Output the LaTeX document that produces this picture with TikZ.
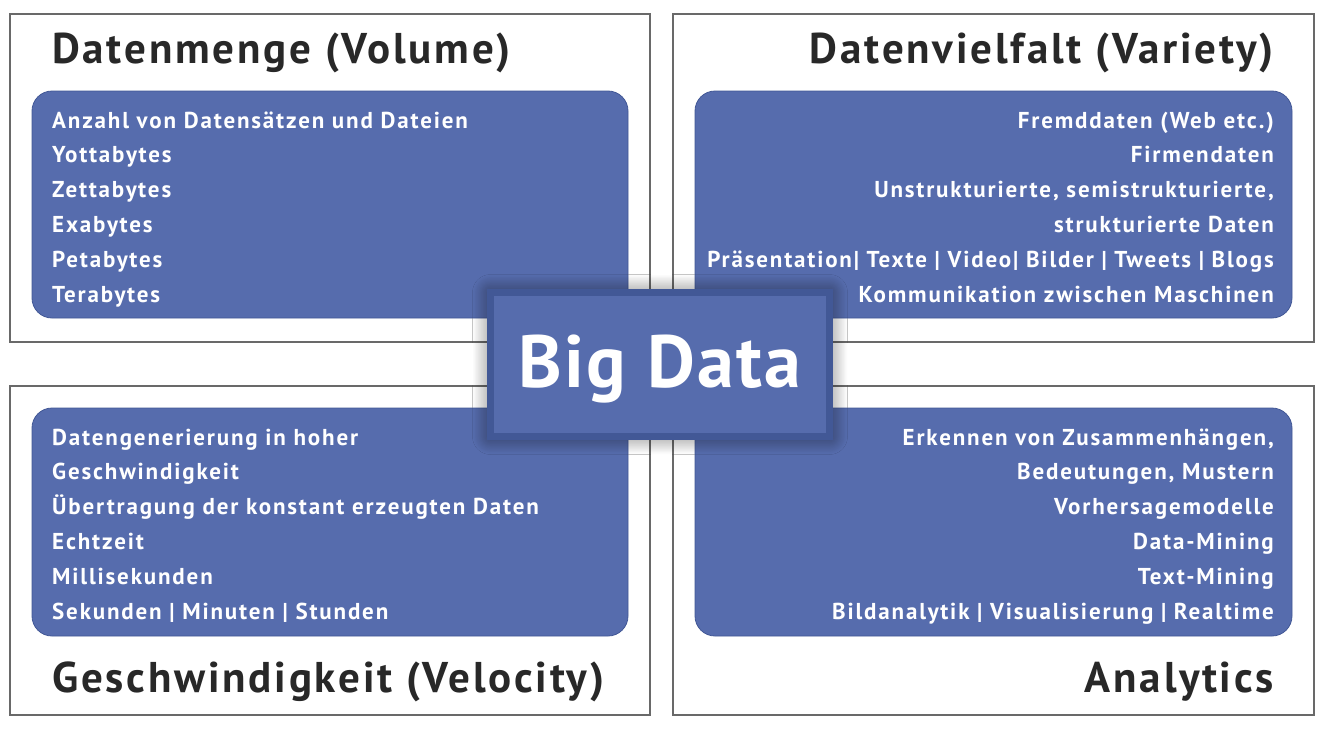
\documentclass[tikz,border=0pt]{standalone}
\usepackage{fontspec}
\setmainfont{PT Sans}
\newfontfamily\headfont[LetterSpace=6.5]{PT Sans}
\newfontfamily\itemfont[LetterSpace=8]{PT Sans}
\newfontfamily\centrefont[LetterSpace=3]{PT Sans}
\usetikzlibrary{positioning,shadows.blur}
\definecolor{bdblue}{RGB}{86,108,173}
\definecolor{bdedge}{RGB}{66,88,150}
\definecolor{bdgray}{RGB}{105,105,105}
\definecolor{bdtext}{RGB}{40,40,40}

\begin{document}
\begin{tikzpicture}[x=1pt,y=-1pt]
% styles for the four quarters and the centre
\tikzset{
  quarter/.style={draw=bdgray, line width=1.5pt, fill=white},
  panel/.style={draw=bdedge, line width=0.8pt, fill=bdblue, rounded corners=20pt},
  heading/.style={font=\headfont\fontsize{43}{50}\selectfont\bfseries, text=bdtext, inner sep=0pt},
  item/.style={font=\itemfont\fontsize{23}{28}\selectfont\bfseries, text=white, inner sep=0pt},
  centrebox/.style={draw=bdedge, line width=7pt, fill=bdblue, minimum width=339pt, minimum height=144pt,
    blur shadow={shadow xshift=0pt, shadow yshift=0pt, shadow blur radius=18pt,
      shadow blur steps=30, shadow opacity=60}},
  centretext/.style={font=\centrefont\fontsize{74}{80}\selectfont\bfseries, text=white, inner sep=0pt},
}
\useasboundingbox (0,0) rectangle (1334,744);
% outer frames
\draw[quarter] (10,14) rectangle (650,342);
\draw[quarter] (673,14) rectangle (1314,342);
\draw[quarter] (10,386) rectangle (650,715);
\draw[quarter] (673,386) rectangle (1314,715);
% blue panels
\draw[panel] (32,91) rectangle (628,318);
\draw[panel] (695,91) rectangle (1292,318);
\draw[panel] (32,408) rectangle (628,636);
\draw[panel] (695,408) rectangle (1292,636);
% headings
\node[heading, anchor=base west] (volume) at (52,63) {Datenmenge (Volume)};
\node[heading, anchor=base east] (variety) at (1274,63) {Datenvielfalt (Variety)};
\node[heading, anchor=base west] (velocity) at (52,692) {Geschwindigkeit (Velocity)};
\node[heading, anchor=base east] (analytics) at (1274,692) {Analytics};
% panel texts
\foreach \txt [count=\i from 0] in {Anzahl von Datensätzen und Dateien, Yottabytes, Zettabytes, Exabytes, Petabytes, Terabytes}
  \node[item, anchor=base west] (vol-\i) at (52,128+34.8*\i) {\txt};
\foreach \txt [count=\i from 0] in {Fremddaten (Web etc.), Firmendaten, {Unstrukturierte, semistrukturierte,}, strukturierte Daten, Präsentation| Texte | Video| Bilder | Tweets | Blogs, Kommunikation zwischen Maschinen}
  \node[item, anchor=base east] (var-\i) at (1274,128+34.8*\i) {\txt};
\foreach \txt [count=\i from 0] in {Datengenerierung in hoher, Geschwindigkeit, Übertragung der konstant erzeugten Daten, Echtzeit, Millisekunden, Sekunden | Minuten | Stunden}
  \node[item, anchor=base west] (vel-\i) at (52,445+34.8*\i) {\txt};
\foreach \txt [count=\i from 0] in {{Erkennen von Zusammenhängen,}, {Bedeutungen, Mustern}, Vorhersagemodelle, Data-Mining, Text-Mining, Bildanalytik | Visualisierung | Realtime}
  \node[item, anchor=base east] (ana-\i) at (1274,445+34.8*\i) {\txt};
% centre
\node[centrebox] (bigdata) at (660,364.5) {};
\node[centretext, anchor=base] (bigdatatext) at ([yshift=-22.5pt]bigdata.center) {Big Data};
\end{tikzpicture}
\end{document}
